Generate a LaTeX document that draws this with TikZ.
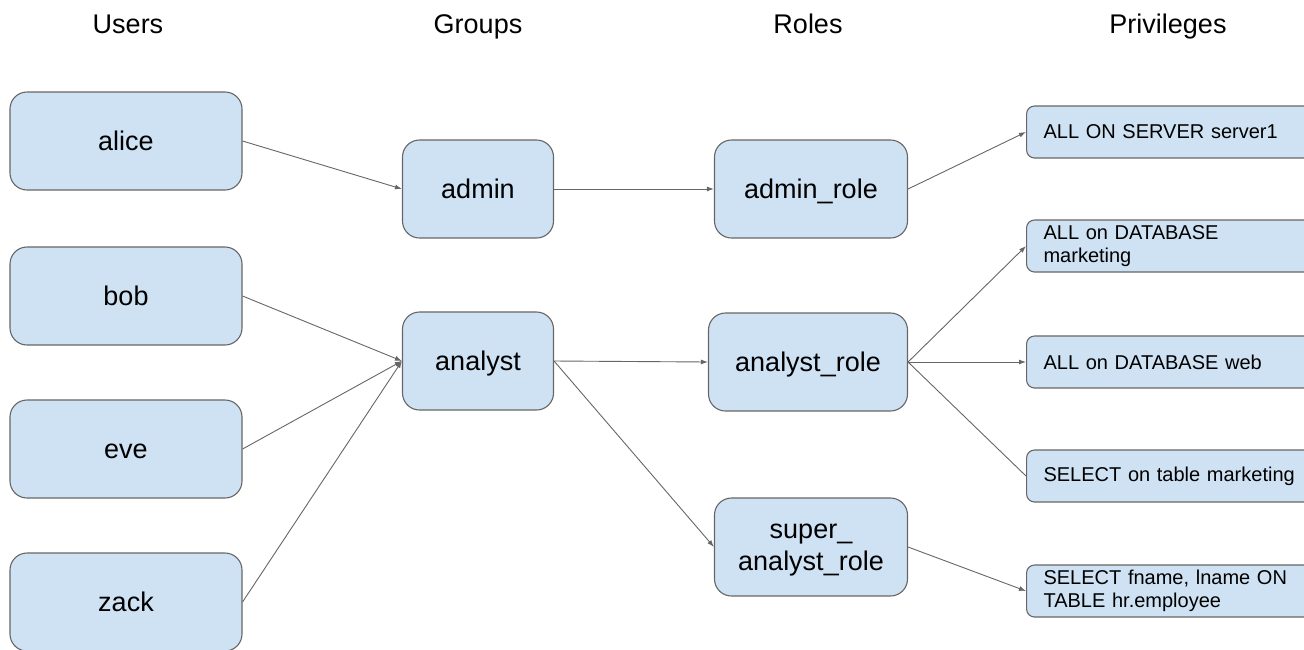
\documentclass[tikz,border=0pt]{standalone}
\usepackage{fontspec}
\setmainfont{Liberation Sans}
\usetikzlibrary{arrows.meta}
\definecolor{boxfill}{HTML}{CFE2F3}
\definecolor{edgegrey}{HTML}{666666}

\tikzset{
	roundbox/.style={draw=edgegrey, line width=1.1pt, fill=boxfill, rounded corners=17pt,
		inner sep=0pt, align=center, font=\fontsize{27}{32}\selectfont},
	onel/.style={text height=19pt, text depth=0pt},
	userbox/.style={roundbox, onel, minimum width=232pt, minimum height=98pt},
	groupbox/.style={roundbox, onel, minimum width=151pt, minimum height=98pt},
	rolebox/.style={roundbox, minimum width=193pt, minimum height=98pt},
	privbox/.style={draw=edgegrey, line width=1.1pt, fill=boxfill, rounded corners=8pt,
		anchor=west, minimum height=52pt, inner xsep=17pt, inner ysep=0pt,
		text width=256pt, align=left, font=\fontsize{20}{23}\selectfont},
	headtext/.style={anchor=base, font=\fontsize{27}{31}\selectfont},
	link/.style={->, draw=edgegrey, line width=0.9pt},
}

\begin{document}
\begin{tikzpicture}[x=1pt, y=-1pt, >={Latex[length=7pt,width=5pt]}]
	\useasboundingbox (0,0) rectangle (1304,649);
	%
	\node[headtext] (h1) at (128,33) {Users};
	\node[headtext] (h2) at (478,33) {Groups};
	\node[headtext] (h3) at (808,33) {Roles};
	\node[headtext] (h4) at (1168,33) {Privileges};
	%
	\node[userbox] (u1) at (126,141) {alice};
	\node[userbox] (u2) at (126,296) {bob};
	\node[userbox] (u3) at (126,449) {eve};
	\node[userbox] (u4) at (126,602) {zack};
	%
	\node[groupbox] (g1) at (478,189) {admin};
	\node[groupbox] (g2) at (478,361) {analyst};
	%
	\node[rolebox, onel] (r1) at (811,189) {admin\_role};
	\node[rolebox, onel, minimum width=199pt] (r2) at (808,362) {analyst\_role};
	\node[rolebox, text depth=-12pt] (r3) at (811,547) {super\_\\analyst\_role};
	%
	\node[privbox] (p1) at (1026,132) {ALL ON SERVER server1};
	\node[privbox] (p2) at (1026,246) {ALL on DATABASE\\marketing};
	\node[privbox] (p3) at (1026,362) {ALL on DATABASE web};
	\node[privbox] (p4) at (1026,476) {SELECT on table marketing};
	\node[privbox] (p5) at (1026,591) {SELECT fname, lname ON\\TABLE hr.employee};
	%
	\draw [link] (u1.east) to (g1.west);
	\draw [link] (u2.east) to (g2.west);
	\draw [link] (u3.east) to (g2.west);
	\draw [link] (u4.east) to (g2.west);
	\draw [link] (g1.east) to (r1.west);
	\draw [link] (g2.east) to (r2.west);
	\draw [link] (g2.east) to (r3.west);
	\draw [link] (r1.east) to (p1.west);
	\draw [link] (r2.east) to (p2.west);
	\draw [link] (r2.east) to (p3.west);
	\draw [link, -] (r2.east) to (p4.west);
	\draw [link] (r3.east) to (p5.west);
\end{tikzpicture}
\end{document}
